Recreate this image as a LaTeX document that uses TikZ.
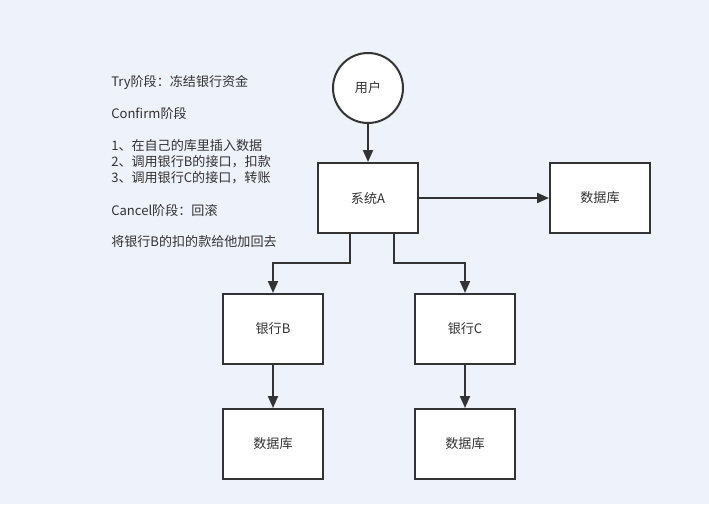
\documentclass[tikz,border=0pt]{standalone}
\usepackage{fontspec}
\setmainfont{Noto Sans CJK SC}
\usetikzlibrary{arrows.meta}
\definecolor{bg}{HTML}{EEF2FA}
\definecolor{ink}{HTML}{333333}
\begin{document}
\begin{tikzpicture}[x=0.75pt,y=-0.75pt,
  every node/.style={font=\fontsize{9.8pt}{12pt}\selectfont, text=ink},
  box/.style={draw=ink, line width=1.5pt, fill=white, minimum width=75pt, minimum height=52.5pt, inner sep=0pt},
  userc/.style={draw=ink, line width=1.5pt, fill=white, circle, minimum size=52.5pt, inner sep=0pt},
  link/.style={draw=ink, line width=1.5pt, -{Triangle[length=9pt,width=7.5pt]}},
  note/.style={anchor=west, inner sep=0pt}]
\fill[bg] (0,0) rectangle (709,504);
\useasboundingbox (0,0) rectangle (709,504);

% notes on the left
\node[note] (t1) at (111,82)  {Try阶段：冻结银行资金};
\node[note] (t2) at (111,114) {Confirm阶段};
\node[note] (t3) at (111,146) {1、在自己的库里插入数据};
\node[note] (t4) at (111,162) {2、调用银行B的接口，扣款};
\node[note] (t5) at (111,178) {3、调用银行C的接口，转账};
\node[note] (t6) at (111,211) {Cancel阶段：回滚};
\node[note] (t7) at (111,242) {将银行B的扣的款给他加回去};

% nodes
\node[userc] (user) at (368,88) {用户};
\node[box] (sysA) at (368,198) {系统A};
\node[box] (dbA)  at (600,198) {数据库};
\node[box] (bankB) at (273,329) {银行B};
\node[box] (bankC) at (465,329) {银行C};
\node[box] (dbB) at (273,444) {数据库};
\node[box] (dbC) at (465,444) {数据库};

% connectors
\draw[link] (user.south) -- (sysA.north);
\draw[link] (sysA.east) -- (dbA.west);
\draw[link] (sysA.south -| 350,0) |- (273,263) -- (bankB.north);
\draw[link] (sysA.south -| 394,0) |- (465,263) -- (bankC.north);
\draw[link] (bankB.south) -- (dbB.north);
\draw[link] (bankC.south) -- (dbC.north);
\end{tikzpicture}
\end{document}
